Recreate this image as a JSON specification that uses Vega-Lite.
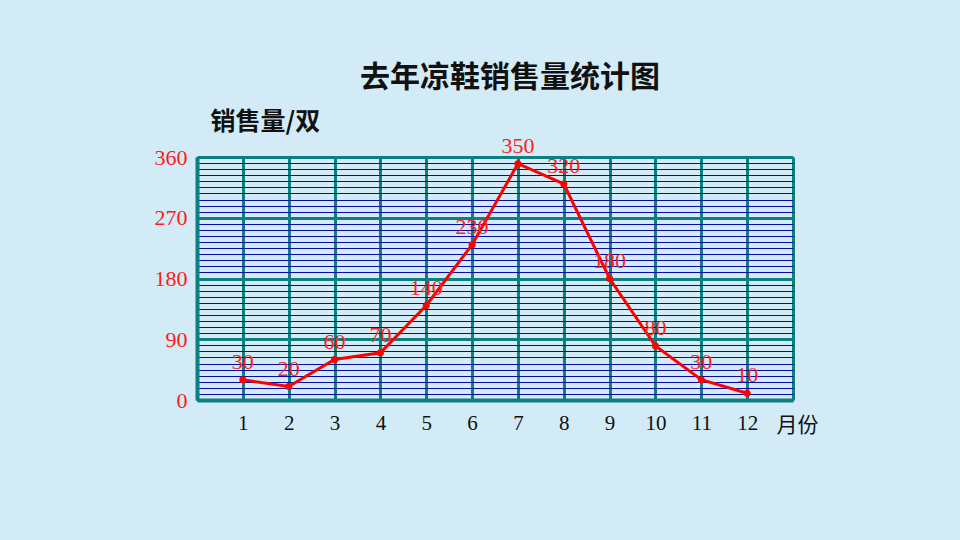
{
  "$schema": "https://vega.github.io/schema/vega-lite/v6.json",
  "autosize": "none",
  "width": 596,
  "height": 243,
  "padding": {"left": 197, "top": 157, "right": 167, "bottom": 140},
  "background": "#d2ebf7",
  "title": {
    "text": "去年凉鞋销售量统计图",
    "font": "Noto Sans CJK SC",
    "fontSize": 30,
    "fontWeight": "bold",
    "color": "#111111",
    "anchor": "middle",
    "dx": 15,
    "offset": 16
  },
  "config": {"view": {"stroke": null}},
  "data": {
    "values": [
      {"month": 1, "sales": 30},
      {"month": 2, "sales": 20},
      {"month": 3, "sales": 60},
      {"month": 4, "sales": 70},
      {"month": 5, "sales": 140},
      {"month": 6, "sales": 230},
      {"month": 7, "sales": 350},
      {"month": 8, "sales": 320},
      {"month": 9, "sales": 180},
      {"month": 10, "sales": 80},
      {"month": 11, "sales": 30},
      {"month": 12, "sales": 10}
    ]
  },
  "encoding": {
    "x": {
      "field": "month",
      "type": "quantitative",
      "scale": {"domain": [0, 13], "nice": false, "zero": false},
      "axis": {
        "values": [0,1,2,3,4,5,6,7,8,9,10,11,12,13],
        "labelExpr": "datum.value >= 1 && datum.value <= 12 ? datum.label : ''",
        "grid": true,
        "gridColor": "#0e7f80",
        "gridWidth": 3,
        "gridOpacity": 1,
        "domainColor": "#0e7f80",
        "domainWidth": 4,
        "ticks": false,
        "labelFont": "Liberation Serif",
        "labelFontSize": 21,
        "labelColor": "#111111",
        "labelPadding": 12,
        "title": "月份",
        "titleFont": "Noto Sans CJK SC",
        "titleFontSize": 21,
        "titleFontWeight": "normal",
        "titleColor": "#111111",
        "titleAngle": 0,
        "titleAlign": "left",
        "titleBaseline": "alphabetic",
        "titleX": 579,
        "titleY": 31
      }
    },
    "y": {
      "field": "sales",
      "type": "quantitative",
      "scale": {"domain": [0, 360], "nice": false},
      "axis": {
        "values": [0,9,18,27,36,45,54,63,72,81,90,99,108,117,126,135,144,153,162,171,180,189,198,207,216,225,234,243,252,261,270,279,288,297,306,315,324,333,342,351,360],
        "labelExpr": "datum.value % 90 === 0 ? datum.label : ''",
        "grid": true,
        "gridColor": {"condition": {"test": "datum.value % 90 === 0", "value": "#0e7f80"}, "value": "#0a0aa8"},
        "gridWidth": {"condition": {"test": "datum.value % 90 === 0", "value": 3}, "value": 1},
        "gridOpacity": 1,
        "domainColor": "#0e7f80",
        "domainWidth": 4,
        "ticks": false,
        "labelFont": "Liberation Serif",
        "labelFontSize": 22,
        "labelColor": "#ff1a1a",
        "labelPadding": 10,
        "title": "销售量/双",
        "titleFont": "Noto Sans CJK SC",
        "titleFontSize": 25,
        "titleFontWeight": "bold",
        "titleColor": "#111111",
        "titleAngle": 0,
        "titleAlign": "left",
        "titleBaseline": "alphabetic",
        "titleX": 13,
        "titleY": -28
      }
    }
  },
  "layer": [
    {"mark": {"type": "line", "color": "#ff0000", "strokeWidth": 3}},
    {"mark": {"type": "point", "filled": true, "color": "#ff0000", "size": 50, "opacity": 1}},
    {
      "mark": {"type": "text", "font": "Liberation Serif", "fontSize": 22, "color": "#ff2020", "dy": -18, "align": "center", "baseline": "middle"},
      "encoding": {"text": {"field": "sales", "type": "quantitative"}}
    }
  ]
}
